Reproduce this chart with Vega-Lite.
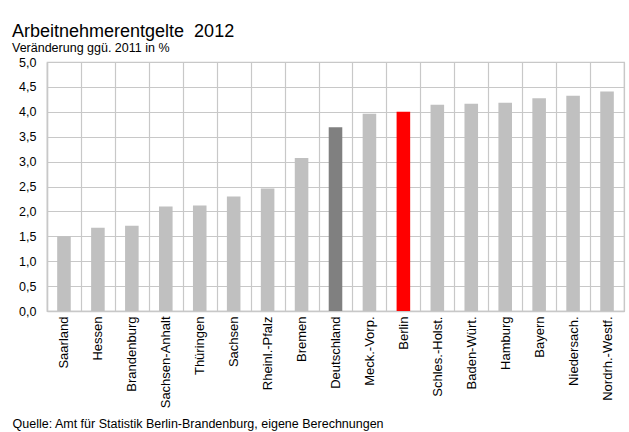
{
  "$schema": "https://vega.github.io/schema/vega-lite/v6.json",
  "width": 577,
  "height": 249,
  "autosize": {"type": "none"},
  "padding": {"left": 47, "top": 62, "right": 5, "bottom": 121},
  "background": "white",
  "title": {
    "text": "Arbeitnehmerentgelte\u00a0\u00a02012",
    "subtitle": "Veränderung ggü. 2011 in %",
    "anchor": "start",
    "frame": "group",
    "dx": -35,
    "offset": 2,
    "font": "Liberation Sans",
    "fontSize": 18,
    "fontWeight": "normal",
    "color": "black",
    "subtitleFont": "Liberation Sans",
    "subtitleFontSize": 12.5,
    "subtitleColor": "black",
    "subtitlePadding": 1
  },
  "data": {
    "values": [
      {"land": "Saarland", "wert": 1.50, "typ": "Land"},
      {"land": "Hessen", "wert": 1.67, "typ": "Land"},
      {"land": "Brandenburg", "wert": 1.71, "typ": "Land"},
      {"land": "Sachsen-Anhalt", "wert": 2.10, "typ": "Land"},
      {"land": "Thüringen", "wert": 2.12, "typ": "Land"},
      {"land": "Sachsen", "wert": 2.30, "typ": "Land"},
      {"land": "Rheinl.-Pfalz", "wert": 2.46, "typ": "Land"},
      {"land": "Bremen", "wert": 3.07, "typ": "Land"},
      {"land": "Deutschland", "wert": 3.69, "typ": "Deutschland"},
      {"land": "Meck.-Vorp.", "wert": 3.96, "typ": "Land"},
      {"land": "Berlin", "wert": 4.00, "typ": "Berlin"},
      {"land": "Schles.-Holst.", "wert": 4.14, "typ": "Land"},
      {"land": "Baden-Würt.", "wert": 4.16, "typ": "Land"},
      {"land": "Hamburg", "wert": 4.18, "typ": "Land"},
      {"land": "Bayern", "wert": 4.27, "typ": "Land"},
      {"land": "Niedersach.", "wert": 4.32, "typ": "Land"},
      {"land": "Nordrh.-Westf.", "wert": 4.41, "typ": "Land"}
    ]
  },
  "mark": {"type": "bar", "width": {"band": 0.4}},
  "encoding": {
    "x": {
      "field": "land",
      "type": "nominal",
      "sort": null,
      "scale": {"paddingInner": 0, "paddingOuter": 0},
      "axis": {
        "title": "Quelle: Amt für Statistik Berlin-Brandenburg, eigene Berechnungen",
        "titleAnchor": "start",
        "titleAlign": "left",
        "titleX": -35,
        "titleY": 116,
        "titleBaseline": "alphabetic",
        "titleFont": "Liberation Sans",
        "titleFontSize": 12.5,
        "titleFontWeight": "normal",
        "titleColor": "black",
        "labelAngle": -90,
        "labelAlign": "right",
        "labelBaseline": "middle",
        "labelPadding": 5,
        "labelFont": "Liberation Sans",
        "labelFontSize": 13,
        "labelColor": "black",
        "ticks": false,
        "tickBand": "extent",
        "grid": true,
        "gridColor": "#c8c8c8",
        "gridWidth": 1.2,
        "domainColor": "#c8c8c8",
        "domainWidth": 1.5
      }
    },
    "y": {
      "field": "wert",
      "type": "quantitative",
      "scale": {"domain": [0, 5], "nice": false},
      "axis": {
        "title": null,
        "values": [0, 0.5, 1, 1.5, 2, 2.5, 3, 3.5, 4, 4.5, 5],
        "format": ".1f",
        "labelFont": "Liberation Sans",
        "labelFontSize": 12.5,
        "labelColor": "black",
        "labelPadding": 11,
        "ticks": false,
        "grid": true,
        "gridColor": "#c8c8c8",
        "gridWidth": 1.2,
        "domainColor": "#c8c8c8",
        "domainWidth": 1.5
      }
    },
    "color": {
      "field": "typ",
      "type": "nominal",
      "scale": {"domain": ["Land", "Deutschland", "Berlin"], "range": ["#c0c0c0", "#808080", "#ff0000"]},
      "legend": null
    }
  },
  "config": {
    "locale": {"number": {"decimal": ",", "thousands": ".", "grouping": [3], "currency": ["", " €"]}},
    "view": {"stroke": "#c8c8c8", "strokeWidth": 1.2}
  }
}
